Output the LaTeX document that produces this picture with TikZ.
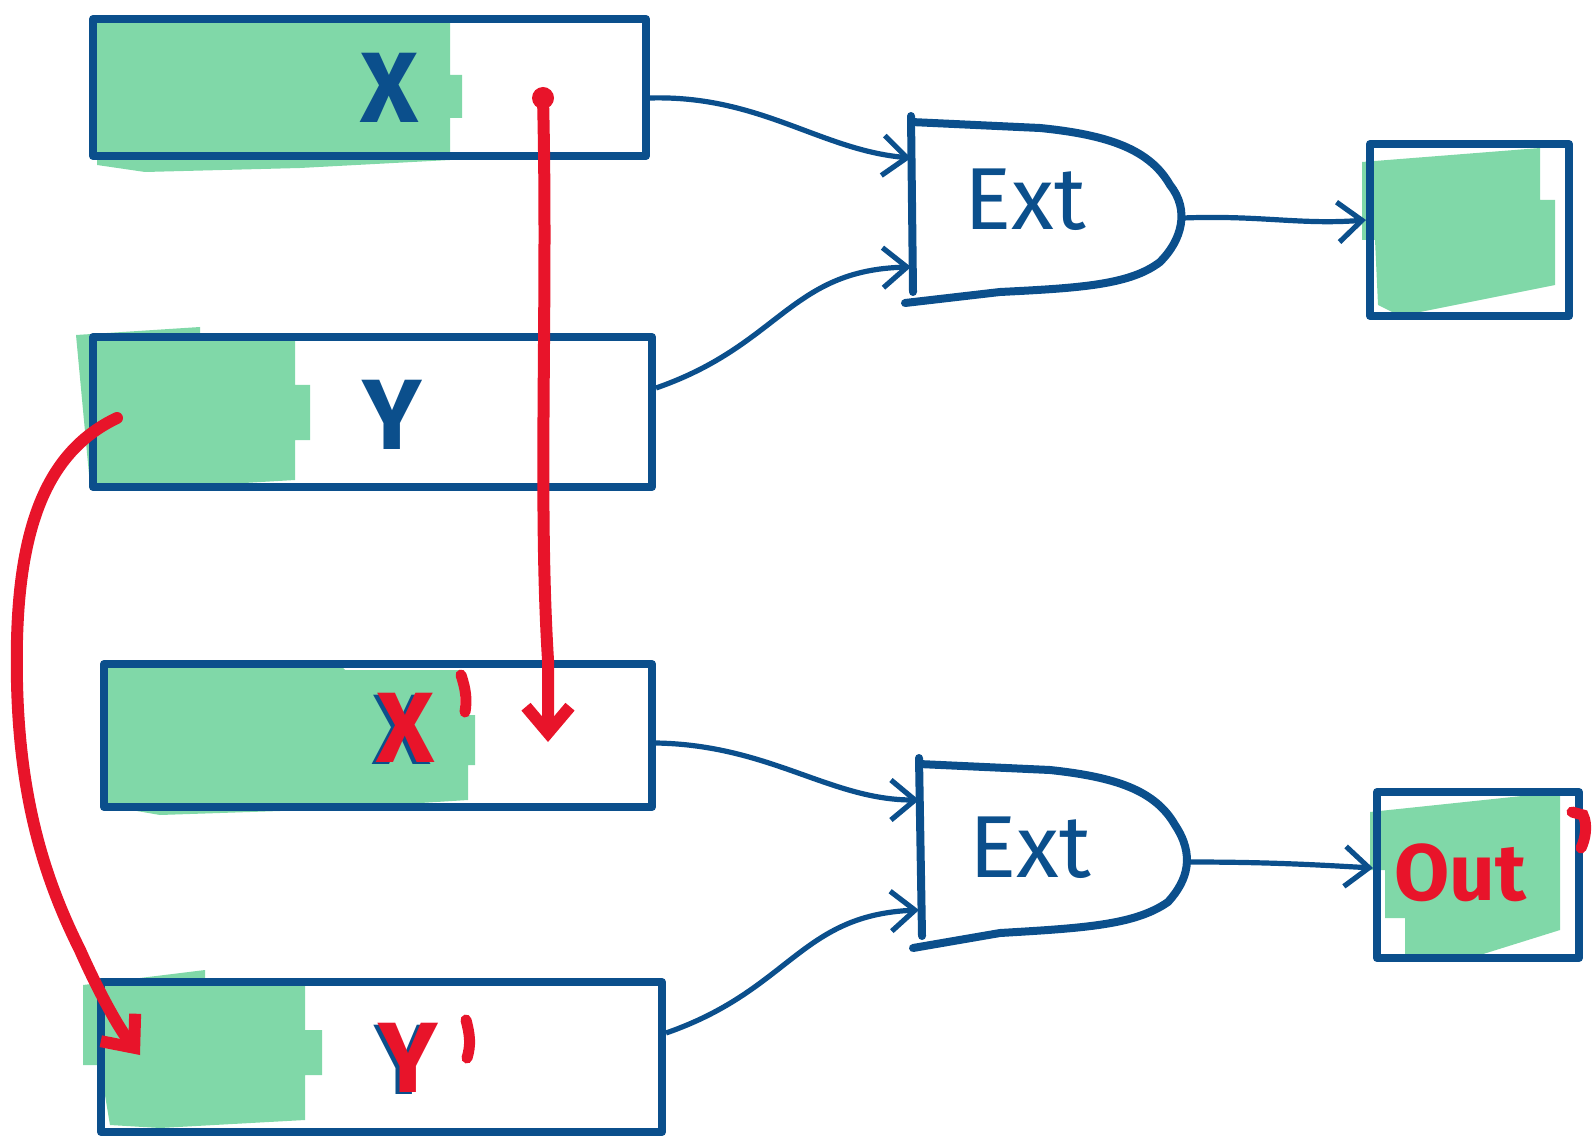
\documentclass[tikz,border=0pt]{standalone}
\usepackage{fontspec}
\setmainfont{Fira Sans}
\usetikzlibrary{arrows.meta}
\definecolor{inkblue}{HTML}{0B4F8C}
\definecolor{inkred}{HTML}{E8142A}
\definecolor{mint}{HTML}{80D8A8}
\tikzset{
  regbox/.style={draw=inkblue, line width=4pt, line join=round},
  mintfill/.style={fill=mint, draw=none},
  gateline/.style={draw=inkblue, line width=4pt, line join=round, line cap=round},
  bluetip/.tip={Straight Barb[length=12pt,width=20pt]},
  redtip/.tip={Straight Barb[length=13pt,width=22pt]},
  wire/.style={-bluetip, draw=inkblue, line width=2.6pt},
  redarrow/.style={-redtip, draw=inkred, line cap=round, line width=6pt},
  primemark/.style={draw=inkred, line width=5.5pt, line cap=round},
  bigletter/.style={text=inkblue, font=\fontsize{50}{50}\selectfont\bfseries},
  gatelabel/.style={text=inkblue, font=\fontsize{44}{44}\selectfont},
}
\begin{document}
\begin{tikzpicture}[x=0.5pt,y=-0.5pt]
\useasboundingbox (0,0) rectangle (1593,1138);

% green highlight areas behind the registers
\fill[mintfill] (97,22) -- (450,22) -- (450,75) -- (462,75) -- (462,118) -- (450,118) -- (450,160) -- (300,168) -- (145,172) -- (97,165) -- cycle;
\fill[mintfill] (76,335) -- (200,327) -- (200,340) -- (295,340) -- (295,385) -- (310,385) -- (310,440) -- (295,440) -- (295,480) -- (160,488) -- (90,485) -- cycle;
\fill[mintfill] (102,668) -- (340,665) -- (345,670) -- (460,670) -- (460,715) -- (475,715) -- (475,765) -- (468,765) -- (468,800) -- (310,810) -- (160,815) -- (102,805) -- cycle;
\fill[mintfill] (83,985) -- (205,970) -- (205,985) -- (305,985) -- (305,1030) -- (322,1030) -- (322,1075) -- (305,1075) -- (305,1120) -- (160,1128) -- (110,1125) -- (100,1065) -- (83,1065) -- cycle;
\fill[mintfill] (1362,162) -- (1540,148) -- (1540,200) -- (1555,200) -- (1555,285) -- (1480,300) -- (1400,316) -- (1378,305) -- (1375,240) -- (1362,240) -- cycle;
\fill[mintfill] (1370,812) -- (1560,792) -- (1560,930) -- (1480,955) -- (1405,960) -- (1405,918) -- (1385,918) -- (1385,870) -- (1370,870) -- cycle;

% registers
\node[regbox, minimum width=553pt*0.5, minimum height=137pt*0.5, anchor=north west] (xreg) at (89,15) {};
\node[regbox, minimum width=559pt*0.5, minimum height=150pt*0.5, anchor=north west] (yreg) at (89,333) {};
\node[regbox, minimum width=548pt*0.5, minimum height=143pt*0.5, anchor=north west] (xpreg) at (100,660) {};
\node[regbox, minimum width=561pt*0.5, minimum height=150pt*0.5, anchor=north west] (ypreg) at (97,978) {};
\node[regbox, minimum width=199pt*0.5, minimum height=172pt*0.5, anchor=north west] (outa) at (1366,140) {};
\node[regbox, minimum width=202pt*0.5, minimum height=166pt*0.5, anchor=north west] (outb) at (1373,788) {};

% register labels
\node[bigletter] (xlab) at (390,88) {X};
\node[bigletter] (ylab) at (392,415) {Y};
\node[bigletter] (xplab) at (402,730) {X};
\node[bigletter, text=inkred] (xplabr) at (406,728) {X};
\draw[primemark] (461,675) .. controls (466,690) and (467,700) .. (465,712);
\node[bigletter] (yplab) at (404,1060) {Y};
\node[bigletter, text=inkred] (yplabr) at (408,1058) {Y};
\draw[primemark] (466,1020) .. controls (470,1035) and (471,1045) .. (467,1058);
\node[text=inkred, font=\fontsize{40}{40}\selectfont\bfseries] (outlab) at (1460,873) {Out};
\draw[primemark] (1572,812) -- (1583,815) .. controls (1588,825) and (1585,840) .. (1581,848);

% gates
\draw[gateline] (911,122) -- (1040,128) .. controls (1110,135) and (1150,150) .. (1170,185)
  .. controls (1190,210) and (1182,240) .. (1160,262) .. controls (1130,285) and (1080,288) .. (1000,292)
  -- (905,303);
\draw[gateline] (911,116) -- (913,292);
\node[gatelabel] (ext1) at (1025,200) {Ext};
\coordinate (g1a) at (911,158);
\coordinate (g1b) at (911,267);
\coordinate (g1o) at (1183,218);

\draw[gateline] (919,764) -- (1050,770) .. controls (1115,777) and (1155,790) .. (1175,825)
  .. controls (1195,855) and (1188,880) .. (1168,902) .. controls (1135,925) and (1085,928) .. (1000,933)
  -- (913,948);
\draw[gateline] (919,758) -- (922,936);
\node[gatelabel] (ext2) at (1030,848) {Ext};
\coordinate (g2a) at (919,800);
\coordinate (g2b) at (919,910);
\coordinate (g2o) at (1190,862);

% wires into and out of the gates
\draw[wire] (xreg.east |- 0,98) .. controls (760,95) and (820,150) .. (g1a);
\draw[wire] (yreg.east |- 0,388) .. controls (780,345) and (790,270) .. (g1b);
\draw[wire] (g1o) .. controls (1260,215) and (1300,225) .. (outa.west |- 0,220);
\draw[wire] (xpreg.east |- 0,743) .. controls (770,745) and (830,800) .. (g2a);
\draw[wire] (ypreg.east |- 0,1033) .. controls (790,990) and (800,915) .. (g2b);
\draw[wire] (g2o) .. controls (1270,862) and (1320,865) .. (outb.west |- 0,868);

% data movement
\coordinate (xsrc) at (543,98);
\coordinate (ysrc) at (117,418);
\fill[inkred] (xsrc) circle (11);
\draw[redarrow] (xsrc) .. controls (548,300) and (538,500) .. (xpreg.north -| 548,0) -- (548,742);
\draw[redarrow] (ysrc) .. controls (50,450) and (20,520) .. (17,640)
  .. controls (14,780) and (40,870) .. (80,950) .. controls (100,995) and (120,1030) .. (140,1055);
\end{tikzpicture}
\end{document}
